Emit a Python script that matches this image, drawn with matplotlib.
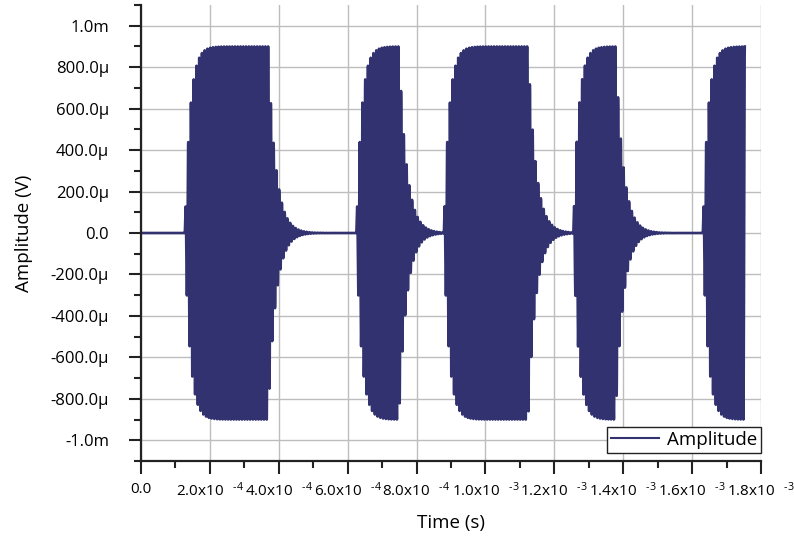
import numpy as np
import matplotlib
matplotlib.use("Agg")
import matplotlib.pyplot as plt
from matplotlib.ticker import FixedLocator, MultipleLocator, FixedFormatter

plt.rcParams['font.family'] = ['Open Sans', 'DejaVu Sans']
plt.rcParams['mathtext.fontset'] = 'custom'
plt.rcParams['mathtext.rm'] = 'Open Sans'
plt.rcParams['mathtext.default'] = 'regular'

# burst timing (s): drive switched on / off
burst_on = [1.27e-4, 6.25e-4, 8.79e-4, 1.255e-3, 1.631e-3]
burst_off = [3.69e-4, 7.49e-4, 1.124e-3, 1.378e-3, 1.753e-3]
peak_amp = 900e-6       # V
carrier_hz = 125e3
tau_rise = 1.5e-5
tau_decay = 2.2e-5
t_end = 1.753e-3
dt = 0.2e-6

# axis ticks and labels
x_ticks = [0, 2e-4, 4e-4, 6e-4, 8e-4, 1.0e-3, 1.2e-3, 1.4e-3, 1.6e-3, 1.8e-3]
x_labels = ['0.0', '2.0x10$\\ \\ ^{\\text{-4}}$', '4.0x10$\\ \\ ^{\\text{-4}}$',
            '6.0x10$\\ \\ ^{\\text{-4}}$', '8.0x10$\\ \\ ^{\\text{-4}}$',
            '1.0x10$\\ \\ ^{\\text{-3}}$', '1.2x10$\\ \\ ^{\\text{-3}}$',
            '1.4x10$\\ \\ ^{\\text{-3}}$', '1.6x10$\\ \\ ^{\\text{-3}}$',
            '1.8x10$\\ \\ ^{\\text{-3}}$']
y_ticks = [-1.0e-3, -8e-4, -6e-4, -4e-4, -2e-4, 0, 2e-4, 4e-4, 6e-4, 8e-4, 1.0e-3]
y_labels = ['-1.0m', '-800.0µ', '-600.0µ', '-400.0µ', '-200.0µ', '0.0',
            '200.0µ', '400.0µ', '600.0µ', '800.0µ', '1.0m']

# build the ring-up / ring-down waveform
t = np.arange(0, t_end + dt / 2, dt)
v = np.zeros_like(t)
for on, off in zip(burst_on, burst_off):
    env = np.zeros_like(t)
    drive = (t >= on) & (t <= off)
    env[drive] = peak_amp * (1 - np.exp(-(t[drive] - on) / tau_rise))
    a_off = peak_amp * (1 - np.exp(-(off - on) / tau_rise))
    ring = t > off
    env[ring] = a_off * np.exp(-(t[ring] - off) / tau_decay)
    v += env * np.sin(2 * np.pi * carrier_hz * (t - on))

fig = plt.figure(figsize=(7.94, 5.38), dpi=100)
ax = fig.add_axes([0.1776, 0.1431, 0.9584 - 0.1776, 0.9907 - 0.1431])

ax.plot(t, v, color='#31326f', linewidth=1.9, label='Amplitude')

ax.set_xlim(0, 1.8e-3)
ax.set_ylim(-1.1e-3, 1.1e-3)

ax.xaxis.set_major_locator(FixedLocator(x_ticks))
ax.xaxis.set_major_formatter(FixedFormatter(x_labels))
ax.xaxis.set_minor_locator(MultipleLocator(1e-4))
ax.yaxis.set_major_locator(FixedLocator(y_ticks))
ax.yaxis.set_major_formatter(FixedFormatter(y_labels))
ax.yaxis.set_minor_locator(MultipleLocator(1e-4))

ax.tick_params(which='major', direction='out', length=9, width=1.5, color='#222222')
ax.tick_params(which='minor', direction='out', length=5, width=1.5, color='#222222')
ax.tick_params(axis='x', pad=6, labelsize=11)
ax.tick_params(axis='y', pad=14, labelsize=12)

ax.grid(True, which='major', color='#bdbdbd', linewidth=1.0)
ax.set_axisbelow(True)

for side in ['top', 'right']:
    ax.spines[side].set_visible(False)
for side in ['left', 'bottom']:
    ax.spines[side].set_linewidth(1.6)
    ax.spines[side].set_color('#222222')

ax.set_xlabel('Time (s)', fontsize=13.5, labelpad=10)
ax.set_ylabel('Amplitude (V)', fontsize=13.5, labelpad=13)

leg = ax.legend(loc='lower right', bbox_to_anchor=(1.0, 0.018), fontsize=13.5, frameon=True,
                fancybox=False, edgecolor='#222222', framealpha=1, handlelength=2.6,
                borderpad=0.2, handletextpad=0.4, borderaxespad=0.0)
leg.get_frame().set_linewidth(1.0)
leg.get_lines()[0].set_linewidth(1.5)

fig.savefig('out.png', dpi=100)
